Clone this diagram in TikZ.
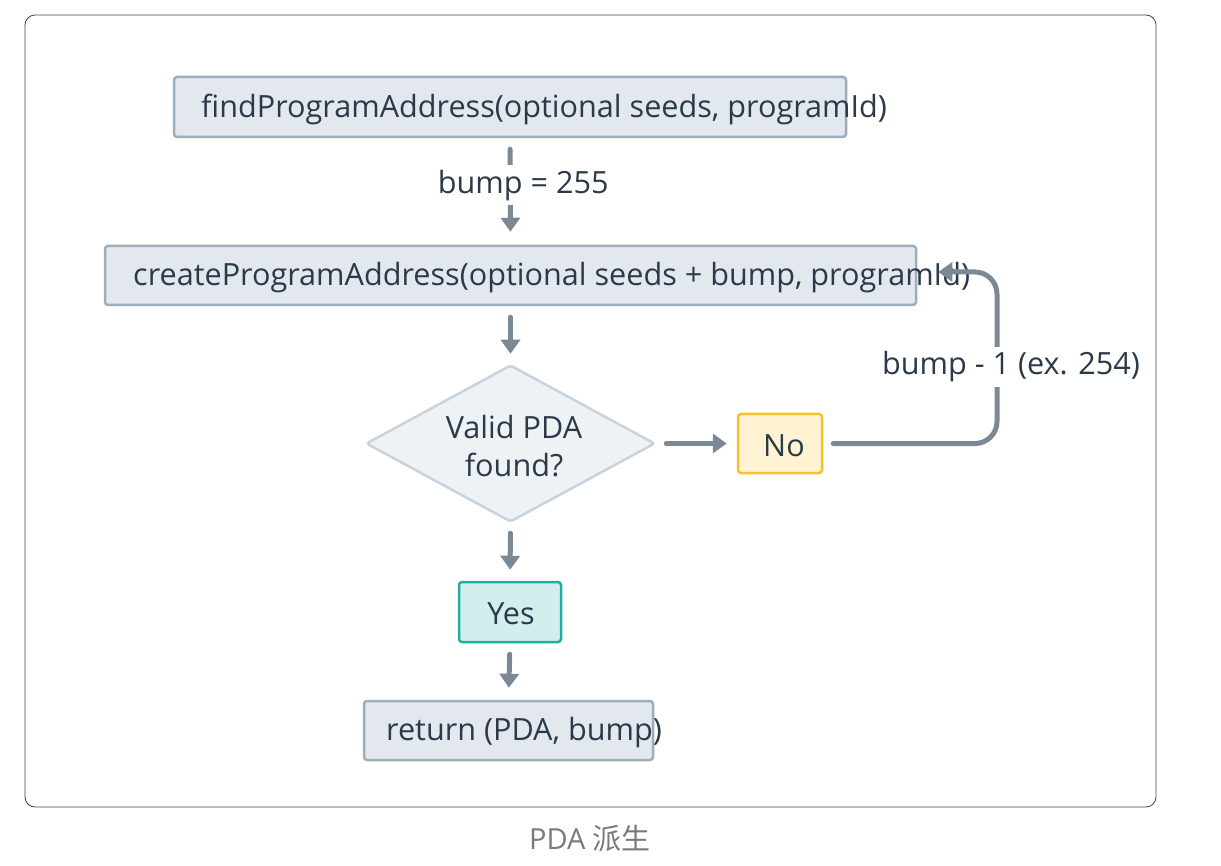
\documentclass[tikz,border=0pt]{standalone}
\usepackage{fontspec}
\setmainfont{Open Sans}
\newfontfamily\cjk{Noto Sans CJK SC}
\usetikzlibrary{arrows.meta,shapes.geometric}
\definecolor{txt}{HTML}{2B3A4A}
\definecolor{conncol}{HTML}{7B8896}
\definecolor{boxfill}{HTML}{E2E8EE}
\definecolor{boxline}{HTML}{9EADBA}
\definecolor{dfill}{HTML}{EEF2F5}
\definecolor{dline}{HTML}{C8D3DC}
\definecolor{nofill}{HTML}{FFF3D4}
\definecolor{noline}{HTML}{F7C12E}
\definecolor{yesfill}{HTML}{D2EFED}
\definecolor{yesline}{HTML}{20AF9E}
\definecolor{capcol}{HTML}{7A7A7A}
\begin{document}
\begin{tikzpicture}[x=1pt,y=-1pt,
  every node/.style={font=\fontsize{30.6}{38}\selectfont, text=txt},
  boxst/.style={draw=boxline, fill=boxfill, line width=2.5pt, rounded corners=3pt, inner sep=0pt},
  lbl/.style={inner sep=0pt, anchor=west},
  conn/.style={draw=conncol, line width=5pt, line cap=round, -{Triangle[length=14pt,width=19pt]}},
  elbl/.style={fill=white, inner sep=5pt},
]
\useasboundingbox (0,0) rectangle (1221,866);
\draw[draw=black!75, line width=0.8pt, rounded corners=10pt] (25,15) rectangle (1156,807);

% boxes
\node[boxst, minimum width=672pt, minimum height=60pt] (b1) at (510,107) {};
\node[lbl] (t1) at (201,109.5) {findProgramAddress(optional seeds, programId)};

\node[boxst, minimum width=811pt, minimum height=59pt] (b2) at (510.5,275.5) {};
\node[lbl] (t2) at (133,278) {createProgramAddress(optional seeds + bump, programId)};

\node[diamond, draw=dline, fill=dfill, line width=2.5pt, aspect=1.84, minimum width=289pt, minimum height=157pt, inner sep=0pt, rounded corners=3pt] (d) at (510.5,443.5) {};
\node[align=center, inner sep=0pt] (dt) at (514,446) {Valid PDA\\found?};

\node[draw=noline, fill=nofill, line width=2.5pt, rounded corners=3pt, minimum width=84pt, minimum height=59pt, inner sep=0pt] (no) at (780,443.5) {};
\node[inner sep=0pt] (not) at (784,445.5) {No};

\node[draw=yesline, fill=yesfill, line width=2.5pt, rounded corners=3pt, minimum width=102pt, minimum height=60pt, inner sep=0pt] (yes) at (510,612) {};
\node[inner sep=0pt] (yest) at (511,614) {Yes};

\node[boxst, minimum width=289pt, minimum height=59pt] (r) at (508.5,730.5) {};
\node[lbl] (rt) at (386,733) {return (PDA, bump)};

% connectors
\draw[conn, shorten <=11pt, shorten >=13pt] (b1.south) -- node[elbl, pos=0.44, xshift=13pt] (l1) {bump = 255} (b2.north);
\draw[conn, shorten <=11pt, shorten >=10pt] (b2.south) -- (d.north);
\draw[conn, shorten <=10pt, shorten >=10pt] (d.east) -- (no.west);
\draw[conn, shorten <=10pt, shorten >=11pt] (d.south) -- (yes.north);
\draw[conn, shorten <=11pt, shorten >=12pt] (yes.south) -- (r.north);
\draw[conn, rounded corners=22pt, shorten <=10pt, shorten >=21pt] (no.east) -- (997,443.5) -- (997,272) -- ([yshift=3.5pt]b2.east);
\node[elbl] (l2) at (1011,367) {bump - 1 (ex. 254)};

% caption
\node[text=capcol, font=\fontsize{29}{34}\selectfont, inner sep=0pt] (cap) at (590,839) {PDA {\cjk 派生}};
\end{tikzpicture}
\end{document}
